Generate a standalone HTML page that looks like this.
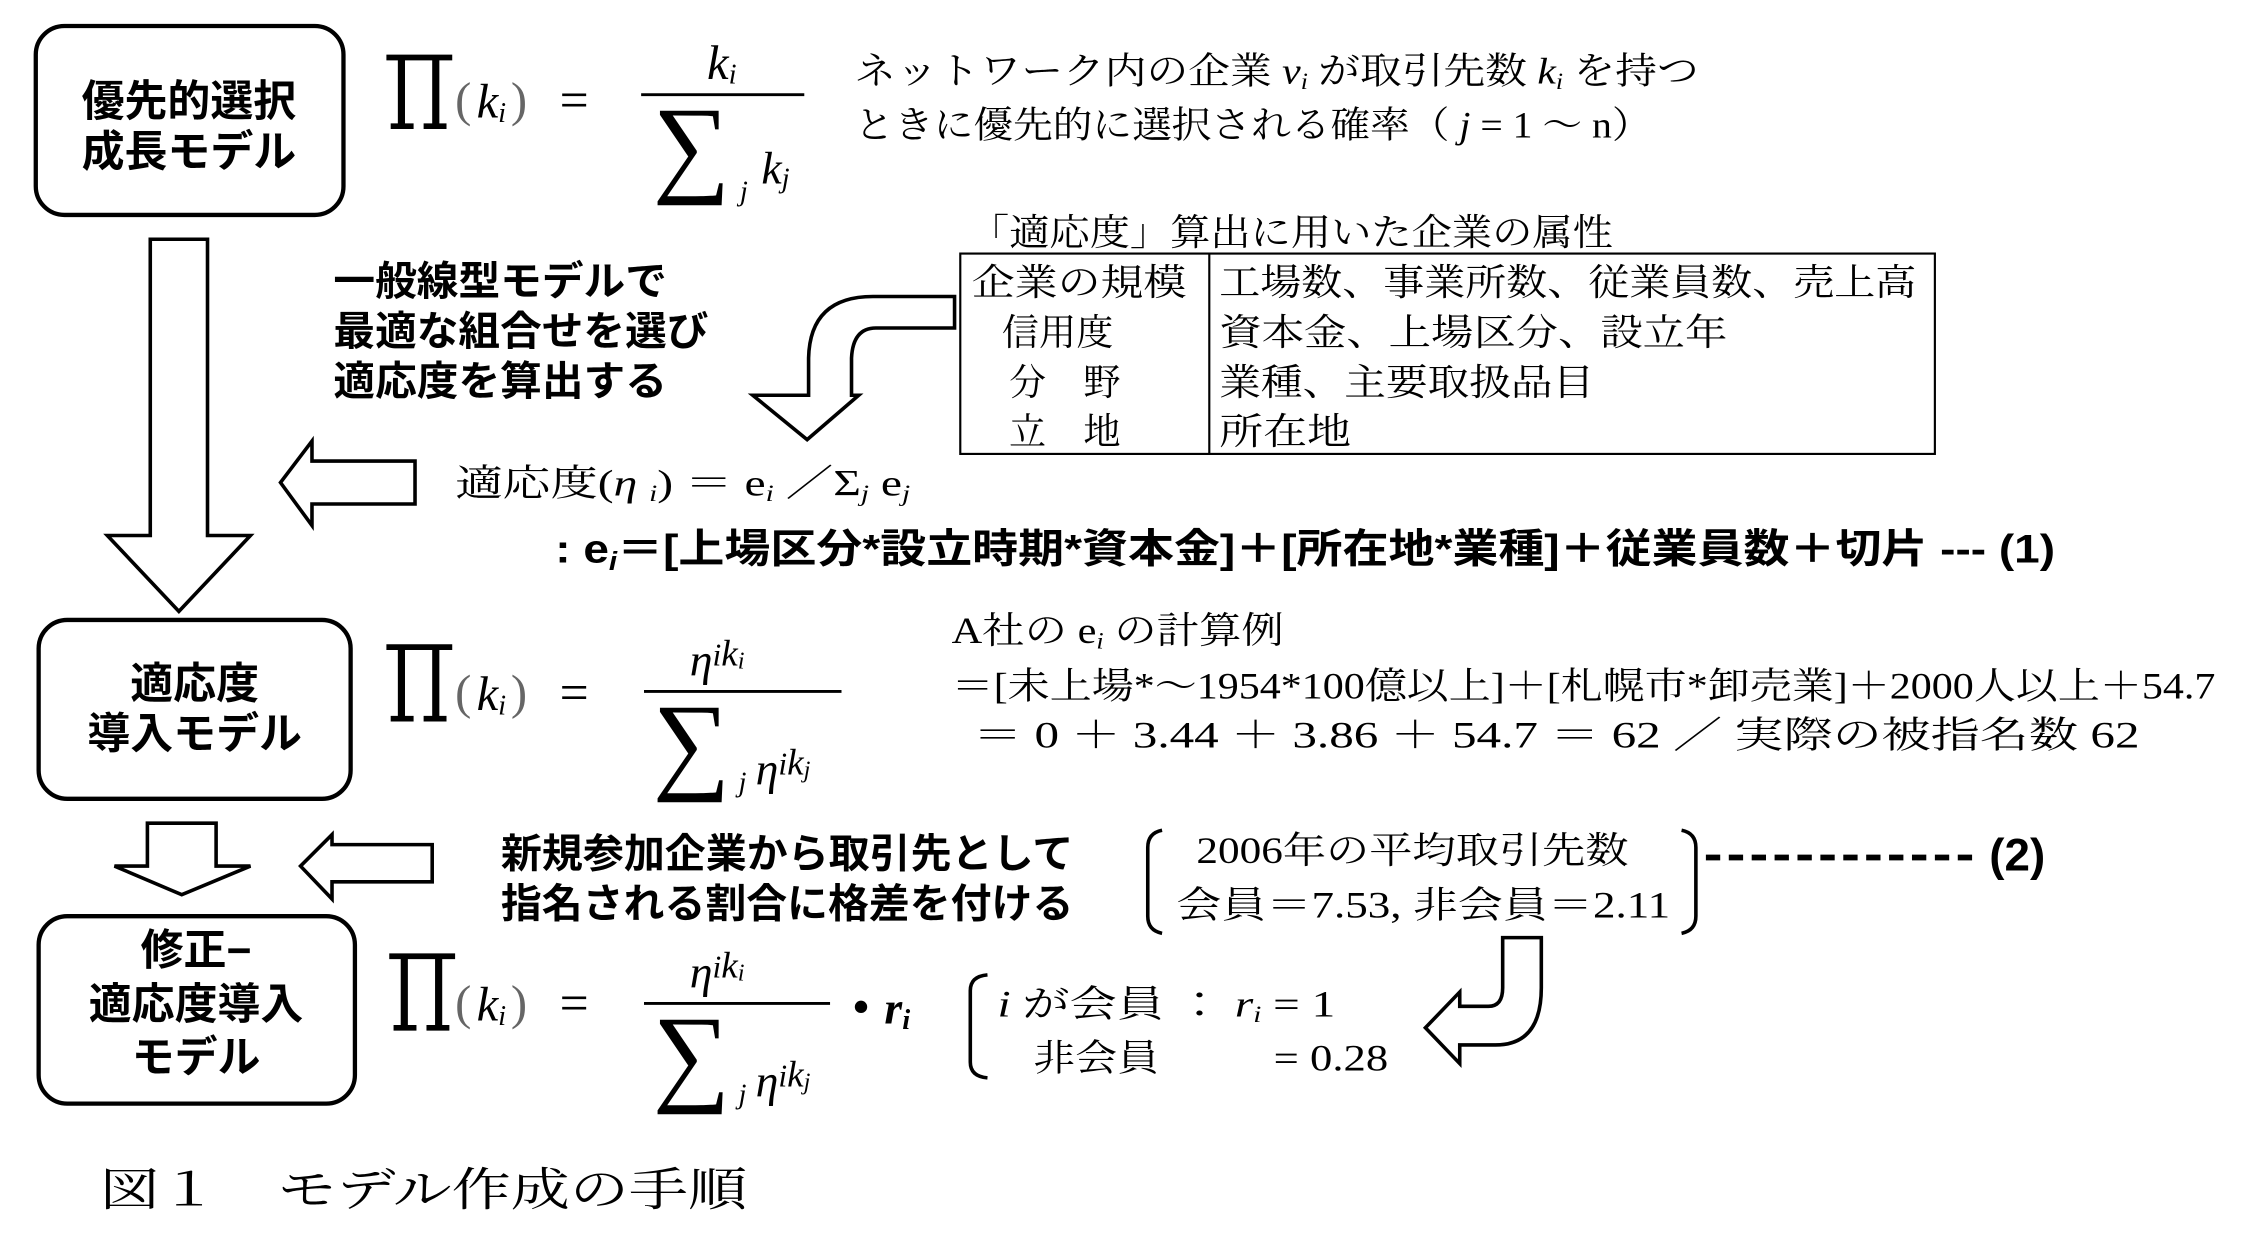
<!DOCTYPE html>
<html><head><meta charset="utf-8"><style>
html,body{margin:0;padding:0;background:#fff;}
svg{display:block;}
.s{font-family:"Liberation Serif","Noto Serif CJK JP",serif;fill:#000;}
.b{font-family:"Liberation Sans","Noto Sans CJK JP",sans-serif;font-weight:bold;fill:#000;}
.it{font-style:italic;}
</style></head><body>
<svg width="2244" height="1237" viewBox="0 0 1568 864" xmlns="http://www.w3.org/2000/svg">
<rect width="1568" height="864" fill="#fff"/>
<g fill="none" stroke="#000" stroke-width="3">
<rect x="25" y="18" width="215" height="132" rx="20"/>
<rect x="27" y="433" width="218" height="125" rx="20"/>
<rect x="27" y="640" width="221" height="131" rx="20"/>
</g>
<g class="b" font-size="30" text-anchor="middle">
<text x="132" y="81">優先的選択</text><text x="132" y="116">成長モデル</text>
<text x="136" y="488">適応度</text><text x="136" y="523">導入モデル</text>
<text x="137" y="674">修正−</text><text x="137" y="712">適応度導入</text><text x="137" y="749">モデル</text>
</g>
<g fill="#fff" stroke="#000" stroke-width="2.5" stroke-linejoin="miter">
<path d="M105 167 H145 V374 H175 L125 427 L75 374 H105 Z"/>
<path d="M103 575 H151 V605 H175 L127 625 L80 605 H103 Z"/>
<path d="M290 322 V352 H218 V367 L196 337 L218 308 V322 Z"/>
<path d="M302 590 V616 H232 V628 L210 605 L232 583 V590 Z"/>
<path d="M667 207 V229 H612 Q596 229 595 250 V276 H600 L564 307 L526 276 H565 V250 Q566 207 610 207 Z"/>
<path d="M1050 655 H1077 V690 Q1077 730 1045 730 H1020 V743 L996 718 L1020 693 V703 H1040 Q1050 703 1050 690 Z"/>
</g>
<g fill="#000">
<path d="M270 38 H316 V42 H270 Z M278 40 H283 V88 H278 Z M302 40 H307 V88 H302 Z M273 86 H289 V90 H273 Z M296 86 H312 V90 H296 Z"/>
<path d="M270 450 H316 V454 H270 Z M278 452 H283 V502 H278 Z M302 452 H307 V502 H302 Z M273 500 H289 V504 H273 Z M296 500 H312 V504 H296 Z"/>
<path d="M272 666 H318 V670 H272 Z M280 668 H285 V718 H280 Z M304 668 H309 V718 H304 Z M275 716 H291 V720 H275 Z M298 716 H314 V720 H298 Z"/>
</g>
<g stroke="#000" stroke-width="2">
<line x1="448" y1="66" x2="562" y2="66"/>
<line x1="450" y1="483" x2="588" y2="483"/>
<line x1="450" y1="701" x2="580" y2="701"/>
</g>
<g class="s">
<text x="318" y="81" font-size="34" fill="#666">(</text><text x="333" y="82" font-size="34" class="it">k<tspan font-size="20" dy="3">i</tspan></text><text x="357" y="81" font-size="34" fill="#666">)</text><text x="391" y="82" font-size="36">=</text>
<text x="494" y="55" font-size="34" class="it">k<tspan font-size="20" dy="3">i</tspan></text>
<text x="456" y="127" font-size="76">∑</text><text x="517" y="140" font-size="20" class="it">j</text><text x="532" y="128" font-size="32" class="it">k<tspan font-size="20" dy="3">j</tspan></text>

<text x="318" y="495" font-size="34" fill="#666">(</text><text x="333" y="496" font-size="34" class="it">k<tspan font-size="20" dy="3">i</tspan></text><text x="357" y="495" font-size="34" fill="#666">)</text><text x="391" y="496" font-size="36">=</text>
<text x="482" y="472" font-size="32" class="it">η<tspan font-size="22" dy="-7">i</tspan><tspan font-size="26">k</tspan><tspan font-size="17" dy="2">i</tspan></text>
<text x="456" y="544" font-size="76">∑</text><text x="516" y="553" font-size="20" class="it">j</text><text x="528" y="548" font-size="32" class="it">η<tspan font-size="22" dy="-7">i</tspan><tspan font-size="26">k</tspan><tspan font-size="17" dy="2">j</tspan></text>

<text x="318" y="712" font-size="34" fill="#666">(</text><text x="333" y="713" font-size="34" class="it">k<tspan font-size="20" dy="3">i</tspan></text><text x="357" y="712" font-size="34" fill="#666">)</text><text x="391" y="713" font-size="36">=</text>
<text x="482" y="690" font-size="32" class="it">η<tspan font-size="22" dy="-7">i</tspan><tspan font-size="26">k</tspan><tspan font-size="17" dy="2">i</tspan></text>
<text x="456" y="762" font-size="76">∑</text><text x="516" y="771" font-size="20" class="it">j</text><text x="528" y="766" font-size="32" class="it">η<tspan font-size="22" dy="-7">i</tspan><tspan font-size="26">k</tspan><tspan font-size="17" dy="2">j</tspan></text>
<text x="596" y="714" font-size="32" font-weight="bold">•</text><text x="618" y="715" font-size="32" font-weight="bold" class="it">r<tspan font-size="20" dy="4">i</tspan></text>

<text x="597" y="58" font-size="26" textLength="590" lengthAdjust="spacingAndGlyphs">ネットワーク内の企業 <tspan class="it">v</tspan><tspan font-size="16" dy="4" class="it">i</tspan><tspan dy="-4"> が取引先数 </tspan><tspan class="it">k</tspan><tspan font-size="16" dy="4" class="it">i</tspan><tspan dy="-4"> を持つ</tspan></text>
<text x="597" y="96" font-size="26" textLength="557" lengthAdjust="spacingAndGlyphs">ときに優先的に選択される確率（ <tspan class="it">j</tspan> = 1 ～ n）</text>

<text x="677" y="171" font-size="26" textLength="450" lengthAdjust="spacingAndGlyphs">「適応度」算出に用いた企業の属性</text>
<text x="679" y="206" font-size="26" textLength="150" lengthAdjust="spacingAndGlyphs">企業の規模</text>
<text x="700" y="241" font-size="26">信用度</text>
<text x="705" y="276" font-size="26">分　野</text>
<text x="705" y="310" font-size="26">立　地</text>
<text x="852" y="206" font-size="26" textLength="487" lengthAdjust="spacingAndGlyphs">工場数、事業所数、従業員数、売上高</text>
<text x="852" y="241" font-size="26" textLength="355" lengthAdjust="spacingAndGlyphs">資本金、上場区分、設立年</text>
<text x="852" y="276" font-size="26" textLength="262" lengthAdjust="spacingAndGlyphs">業種、主要取扱品目</text>
<text x="852" y="310" font-size="26" textLength="92" lengthAdjust="spacingAndGlyphs">所在地</text>

<text x="318" y="346" font-size="26" textLength="318" lengthAdjust="spacingAndGlyphs">適応度(<tspan class="it">η </tspan><tspan font-size="16" class="it" dy="4">i</tspan><tspan dy="-4">) ＝ e</tspan><tspan font-size="16" class="it" dy="4">i</tspan><tspan dy="-4"> ／Σ</tspan><tspan font-size="16" class="it" dy="4">j</tspan><tspan dy="-4"> e</tspan><tspan font-size="16" class="it" dy="4">j</tspan></text>

<text x="665" y="449" font-size="26" textLength="232" lengthAdjust="spacingAndGlyphs">A社の e<tspan font-size="16" class="it" dy="4">i</tspan><tspan dy="-4"> の計算例</tspan></text>
<text x="665" y="488" font-size="26" textLength="883" lengthAdjust="spacingAndGlyphs">＝[未上場*～1954*100億以上]＋[札幌市*卸売業]＋2000人以上＋54.7</text>
<text x="680" y="522" font-size="26" textLength="815" lengthAdjust="spacingAndGlyphs">＝ 0 ＋ 3.44 ＋ 3.86 ＋ 54.7 ＝ 62 ／ 実際の被指名数 62</text>

<text x="836" y="603" font-size="26" textLength="302" lengthAdjust="spacingAndGlyphs">2006年の平均取引先数</text>
<text x="822" y="641" font-size="26" textLength="345" lengthAdjust="spacingAndGlyphs">会員＝7.53, 非会員＝2.11</text>

<text x="697" y="710" font-size="26" textLength="236" lengthAdjust="spacingAndGlyphs"><tspan class="it">i</tspan> が会員 ：  <tspan class="it">r</tspan><tspan font-size="16" class="it" dy="4">i</tspan><tspan dy="-4"> = 1</tspan></text>
<text x="722" y="748" font-size="26" textLength="88" lengthAdjust="spacingAndGlyphs">非会員</text>
<text x="890" y="748" font-size="26" textLength="80" lengthAdjust="spacingAndGlyphs">= 0.28</text>

<text x="70" y="842" font-size="32" textLength="452" lengthAdjust="spacingAndGlyphs">図１　モデル作成の手順</text>
</g>
<rect x="671" y="177" width="681" height="140" fill="none" stroke="#000" stroke-width="1.5"/>
<line x1="845" y1="177" x2="845" y2="317" stroke="#000" stroke-width="1.5"/>
<g fill="none" stroke="#000" stroke-width="2.5">
<path d="M812 580 Q802 582 802 592 V640 Q802 650 812 652"/>
<path d="M1175 580 Q1185 582 1185 592 V640 Q1185 650 1175 652"/>
<path d="M690 681 Q678 682 678 692 V742 Q678 752 690 753"/>
</g>
<line x1="1192" y1="599" x2="1380" y2="599" stroke="#000" stroke-width="4" stroke-dasharray="10,6"/>
<g class="b">
<text x="233" y="206" font-size="28" textLength="233" lengthAdjust="spacingAndGlyphs">一般線型モデルで</text>
<text x="233" y="241" font-size="28" textLength="262" lengthAdjust="spacingAndGlyphs">最適な組合せを選び</text>
<text x="233" y="276" font-size="28" textLength="233" lengthAdjust="spacingAndGlyphs">適応度を算出する</text>
<text x="388" y="393" font-size="28" textLength="1048" lengthAdjust="spacingAndGlyphs">: e<tspan font-size="18" class="it" dy="5">i</tspan><tspan dy="-5">＝[上場区分*設立時期*資本金]＋[所在地*業種]＋従業員数＋切片 --- (1)</tspan></text>
<text x="350" y="606" font-size="28" textLength="400" lengthAdjust="spacingAndGlyphs">新規参加企業から取引先として</text>
<text x="350" y="641" font-size="28" textLength="400" lengthAdjust="spacingAndGlyphs">指名される割合に格差を付ける</text>
<text x="1390" y="608" font-size="32">(2)</text>
</g>
</svg>
</body></html>
